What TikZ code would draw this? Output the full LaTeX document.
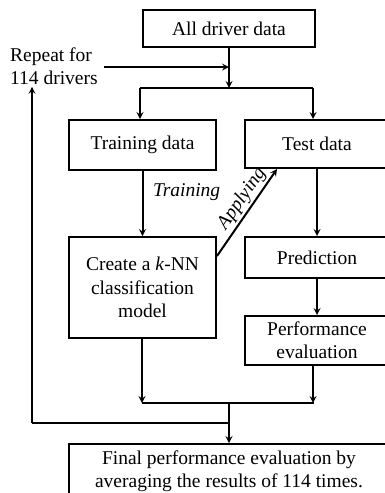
\documentclass[tikz,border=0pt]{standalone}
\usepackage{fontspec}
\setmainfont{Liberation Serif}
\usetikzlibrary{positioning,arrows.meta}
\tikzset{>=stealth}
\tikzset{
  box/.style={draw,line width=2pt,align=center,inner sep=0pt},
  flow/.style={line width=2pt}
}

\begin{document}
\fontsize{19.5}{23.3}\selectfont
\begin{tikzpicture}[x=1pt,y=-1pt]
\useasboundingbox (0,0) rectangle (385,493);
% boxes
\node[box,minimum width=172,minimum height=37] (all) at (229,28.5) {All driver data};
\node[box,minimum width=147,minimum height=50] (train) at (142.5,145) {Training data};
\node[box,minimum width=144,minimum height=48] (test) at (317,144) {Test data};
\node[box,minimum width=147,minimum height=101] (model) at (142.5,287.5) {Create a \textit{k}-NN\\classification\\model};
\node[box,minimum width=144,minimum height=41] (pred) at (317,257.5) {Prediction};
\node[box,minimum width=144,minimum height=49] (perf) at (317,340.5) {Performance\\evaluation};
\node[box,minimum width=320,minimum height=54] (final) at (229,471) {Final performance evaluation by\\averaging the results of 114 times.};
\node[align=left,anchor=west,inner sep=0pt] (rep) at (10,66) {Repeat for\\114 drivers};
% branch points
\coordinate (split) at (229,88);
\coordinate (splitL) at (140,88);
\coordinate (splitR) at (313,88);
\coordinate (repin) at (229,67);
\coordinate (join) at (229,403);
\coordinate (joinL) at (142,403);
\coordinate (joinR) at (313,403);
\coordinate (loop) at (32,423);
% top part
\draw[flow,->] (all.south) -- (split);
\draw[flow,->] ([xshift=6pt]rep.east |- repin) -- (repin);
\draw[flow] (splitL) -- (splitR);
\draw[flow,->] (splitL) -- (splitL |- train.north);
\draw[flow,->] (splitR) -- (splitR |- test.north);
% middle part
\draw[flow,->] (train) -- node[pos=0.33,right=3pt,font=\itshape] {Training} (model);
\draw[flow,->] ([yshift=-20pt]model.north east) -- node[pos=0.58,sloped,above,inner sep=2pt,font=\itshape] {Applying} ([xshift=33pt]test.south west);
\draw[flow,->] (test) -- (pred);
\draw[flow,->] (pred) -- (perf);
% bottom part
\draw[flow,->] (model.south -| joinL) -- (joinL);
\draw[flow,->] (perf.south -| joinR) -- (joinR);
\draw[flow] (joinL) -- ([xshift=1pt]joinR);
\draw[flow,->] (join) -- (final.north);
\draw[flow] (loop) -- (loop -| join);
\draw[flow,->] (loop) -- ([yshift=-2pt]loop |- rep.south);
\end{tikzpicture}
\end{document}
